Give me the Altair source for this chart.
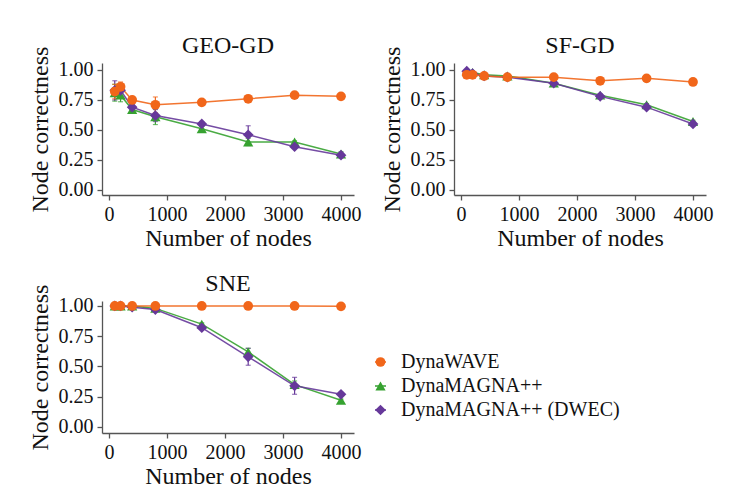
import altair as alt
import pandas as pd

# ---------------- data ----------------
nodes = [100, 200, 400, 800, 1600, 2400, 3200, 4000]
series_names = ["DynaWAVE", "DynaMAGNA++", "DynaMAGNA++ (DWEC)"]
colors = ["#f1661a", "#36a230", "#66389a"]
shapes = ["circle", "triangle-up", "diamond"]
sizes = [95, 115, 45]

geo_wave = [0.82, 0.86, 0.75, 0.71, 0.73, 0.76, 0.79, 0.78]
geo_wave_err = [0.06, 0.04, 0.02, 0.065, 0.01, 0.01, 0.01, 0.01]
geo_magna = [0.81, 0.79, 0.67, 0.61, 0.51, 0.40, 0.40, 0.30]
geo_magna_err = [0.07, 0.055, 0.02, 0.065, 0.02, 0.03, 0.01, 0.02]
geo_dwec = [0.83, 0.83, 0.69, 0.62, 0.55, 0.46, 0.36, 0.29]
geo_dwec_err = [0.08, 0.06, 0.02, 0.05, 0.02, 0.075, 0.01, 0.02]

sf_wave = [0.96, 0.96, 0.95, 0.94, 0.94, 0.91, 0.93, 0.90]
sf_wave_err = [0.01, 0.01, 0.01, 0.01, 0.01, 0.01, 0.01, 0.01]
sf_magna = [0.99, 0.98, 0.96, 0.95, 0.89, 0.79, 0.71, 0.57]
sf_magna_err = [0.01, 0.01, 0.01, 0.01, 0.01, 0.01, 0.01, 0.01]
sf_dwec = [0.99, 0.97, 0.95, 0.94, 0.89, 0.78, 0.69, 0.55]
sf_dwec_err = [0.01, 0.01, 0.02, 0.01, 0.01, 0.01, 0.01, 0.01]

sne_wave = [1.0, 1.0, 1.0, 1.0, 1.0, 1.0, 1.0, 0.997]
sne_wave_err = [0.0, 0.0, 0.0, 0.0, 0.0, 0.0, 0.0, 0.0]
sne_magna = [1.0, 1.0, 1.0, 0.98, 0.85, 0.62, 0.35, 0.22]
sne_magna_err = [0.0, 0.0, 0.0, 0.01, 0.01, 0.03, 0.03, 0.01]
sne_dwec = [1.0, 1.0, 0.99, 0.97, 0.82, 0.58, 0.34, 0.27]
sne_dwec_err = [0.0, 0.0, 0.01, 0.01, 0.01, 0.07, 0.07, 0.01]

x_ticks = [0, 1000, 2000, 3000, 4000]
y_ticks = [0.0, 0.25, 0.5, 0.75, 1.0]

FONT = "Liberation Serif"
PW, PH = 252, 132

color_scale = alt.Scale(domain=series_names, range=colors)
shape_scale = alt.Scale(domain=series_names, range=shapes)
size_scale = alt.Scale(domain=series_names, range=sizes)


def build_df(wave, wave_e, magna, magna_e, dwec, dwec_e):
    rows = []
    # drawing order: green, purple, orange (orange on top)
    for name, vals, errs, k in [
        ("DynaMAGNA++", magna, magna_e, 0),
        ("DynaMAGNA++ (DWEC)", dwec, dwec_e, 1),
        ("DynaWAVE", wave, wave_e, 2),
    ]:
        for xv, v, e in zip(nodes, vals, errs):
            rows.append({"x": xv, "y": v, "lo": v - e, "hi": v + e,
                         "series": name, "k": k})
    return pd.DataFrame(rows)


def panel(title, df, ydom):
    xs = alt.Scale(domain=[-120, 4224], nice=False, zero=False)
    ys = alt.Scale(domain=ydom, nice=False, zero=False)
    xaxis = alt.Axis(values=x_ticks, title="Number of nodes", format="d")
    yaxis = alt.Axis(values=y_ticks, title="Node correctness", format=".2f")
    base = alt.Chart(df).encode(
        x=alt.X("x:Q", scale=xs, axis=xaxis),
        color=alt.Color("series:N", scale=color_scale, legend=None),
    )
    lines = base.mark_line(strokeWidth=1.5, opacity=0.9).encode(
        y=alt.Y("y:Q", scale=ys, axis=yaxis), detail="series:N",
        order="x:Q")
    rules = base.mark_rule(strokeWidth=1.2).encode(
        y=alt.Y("lo:Q", scale=ys, axis=yaxis), y2="hi:Q")
    cap_lo = base.mark_tick(orient="horizontal", size=5, thickness=1.2).encode(
        y=alt.Y("lo:Q", scale=ys, axis=yaxis))
    cap_hi = base.mark_tick(orient="horizontal", size=5, thickness=1.2).encode(
        y=alt.Y("hi:Q", scale=ys, axis=yaxis))
    pts = base.mark_point(filled=True, opacity=1).encode(
        y=alt.Y("y:Q", scale=ys, axis=yaxis),
        shape=alt.Shape("series:N", scale=shape_scale, legend=None),
        size=alt.Size("series:N", scale=size_scale, legend=None),
        order="k:Q",
    )
    return alt.layer(lines, rules, cap_lo, cap_hi, pts).properties(
        width=PW, height=PH,
        title=alt.Title(title, fontSize=24, font=FONT, fontWeight="normal",
                        offset=-12, color="#111"),
    )


p1 = panel("GEO-GD", build_df(geo_wave, geo_wave_err, geo_magna,
                              geo_magna_err, geo_dwec, geo_dwec_err),
           [-0.042, 1.058])
p2 = panel("SF-GD", build_df(sf_wave, sf_wave_err, sf_magna, sf_magna_err,
                             sf_dwec, sf_dwec_err), [-0.042, 1.058])
p3 = panel("SNE", build_df(sne_wave, sne_wave_err, sne_magna, sne_magna_err,
                           sne_dwec, sne_dwec_err), [-0.05, 1.041])

# ---------------- manual legend (line + marker + label) ----------------
leg = pd.DataFrame({"series": series_names, "x0": [0] * 3, "x1": [11] * 3,
                    "xm": [5.5] * 3, "xt": [26] * 3})
lx = alt.Scale(domain=[0, 280], nice=False, zero=False)
ly = alt.Scale(type="point", domain=series_names, range=[61, 109], padding=0)
lbase = alt.Chart(leg).encode(
    y=alt.Y("series:N", scale=ly, axis=None),
    color=alt.Color("series:N", scale=color_scale, legend=None),
)
l_line = lbase.mark_rule(strokeWidth=1.5).encode(
    x=alt.X("x0:Q", scale=lx, axis=None), x2="x1:Q")
l_pt = lbase.mark_point(filled=True, opacity=1).encode(
    x=alt.X("xm:Q", scale=lx, axis=None),
    shape=alt.Shape("series:N", scale=shape_scale, legend=None),
    size=alt.Size("series:N", scale=alt.Scale(domain=series_names,
                                              range=[40, 50, 25]), legend=None),
)
l_txt = alt.Chart(leg).mark_text(align="left", baseline="middle", fontSize=20,
                                 font=FONT, color="#111").encode(
    x=alt.X("xt:Q", scale=lx, axis=None),
    y=alt.Y("series:N", scale=ly, axis=None),
    text="series:N",
)
legend_chart = alt.layer(l_line, l_pt, l_txt).properties(width=280, height=132)

row1 = alt.hconcat(p1, p2, spacing=18)
row2 = alt.hconcat(p3, legend_chart, spacing=12)

chart = alt.vconcat(row1, row2, spacing=22).properties(
    padding={"left": 20, "top": 26, "right": 5, "bottom": 5}
).configure(
    font=FONT,
).configure_view(
    stroke=None,
).configure_axis(
    labelFont=FONT, titleFont=FONT, labelFontSize=20, titleFontSize=24,
    labelColor="#111", titleColor="#111", titleFontWeight="normal",
    domainColor="#555", tickColor="#555", domainWidth=1.3, tickWidth=1.3,
    tickSize=5, labelPadding=4, grid=False,
).configure_axisY(
    titlePadding=6,
).configure_axisX(
    titlePadding=2,
)

chart.save("out.html", embed_options={"renderer": "svg", "actions": False})
